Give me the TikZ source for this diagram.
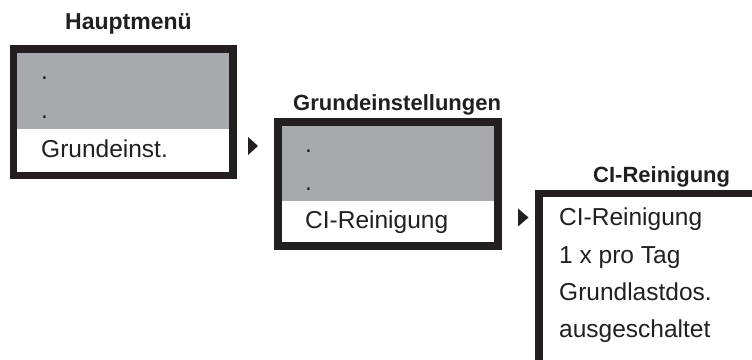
\documentclass[tikz,border=0pt]{standalone}
\usepackage{fontspec}
\setmainfont{Liberation Sans}
\definecolor{inkblack}{HTML}{231F20}
\definecolor{menugray}{HTML}{A7A9AC}
\tikzset{
  frame/.style={draw=inkblack, line width=7.5pt, line join=miter},
  txt/.style={anchor=base west, inner sep=0pt, text=inkblack, font=\fontsize{24.5}{29}\selectfont},
  ttl/.style={anchor=base west, inner sep=0pt, text=inkblack, font=\bfseries\fontsize{22}{26}\selectfont},
  marker/.style={fill=inkblack, draw=none}
}
\begin{document}
\begin{tikzpicture}[x=1pt,y=-1pt]
\clip (0,0) rectangle (752,359);
\fill[white] (0,0) rectangle (752,359);

% Box 1: Hauptmenue
\fill[menugray] (17,53) rectangle (229,129);
\draw[frame] (13.5,49) rectangle (233,175.25);
\node[ttl, font=\bfseries\fontsize{23}{27}\selectfont] (t1) at (65,29) {Hauptmenü};
\node[txt] (b1a) at (41,79.5) {.};
\node[txt] (b1b) at (41,118.5) {.};
\node[txt] (b1c) at (41,157) {Grundeinst.};

% marker 1
\fill[marker] (248,137) -- (258,146) -- (248,155) -- cycle;

% Box 2: Grundeinstellungen
\fill[menugray] (282,126) rectangle (494,201);
\draw[frame] (278,122) rectangle (498,246);
\node[ttl] (t2) at (293,110) {Grundeinstellungen};
\node[txt] (b2a) at (305,152.5) {.};
\node[txt] (b2b) at (305,190.5) {.};
\node[txt] (b2c) at (305,228) {CI-Reinigung};

% marker 2
\fill[marker] (518,208.5) -- (528.5,217.5) -- (518,226.5) -- cycle;

% Box 3: CI-Reinigung (cut off by the picture edge)
\draw[frame] (539,370) -- (539,193.5) -- (770,193.5);
\node[ttl] (t3) at (593,182) {CI-Reinigung};
\node[txt] (b3a) at (559,225) {CI-Reinigung};
\node[txt] (b3b) at (559,263) {1 x pro Tag};
\node[txt] (b3c) at (559,300) {Grundlastdos.};
\node[txt] (b3d) at (559,337) {ausgeschaltet};
\end{tikzpicture}
\end{document}
